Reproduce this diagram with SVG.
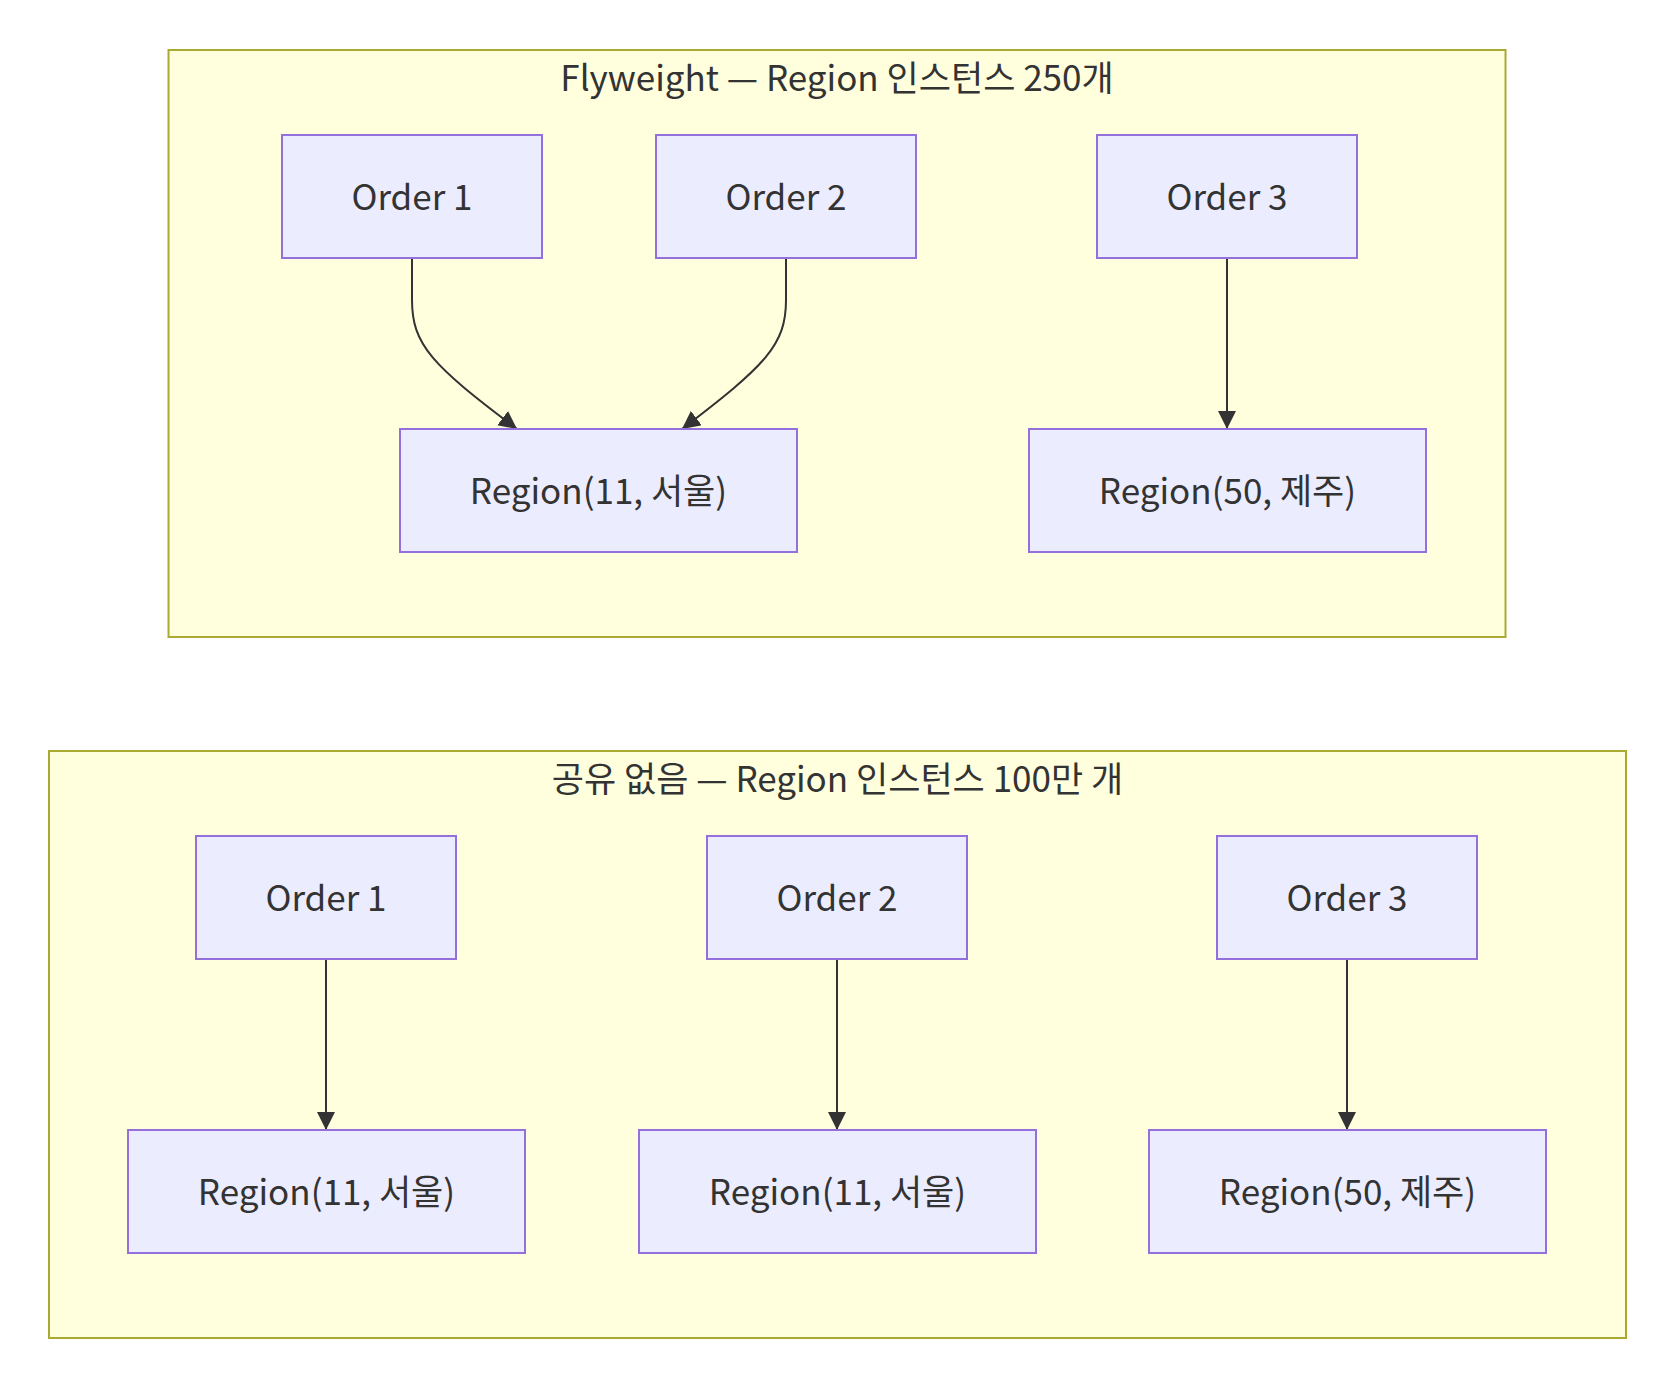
<svg xmlns="http://www.w3.org/2000/svg" width="1664" height="1386" viewBox="0 0 1664 1386">
<style>
.cluster{fill:#ffffde;stroke:#aaaa33;stroke-width:2}
.node rect{fill:#ececff;stroke:#9370db;stroke-width:2}
text{font-family:"Noto Sans CJK KR","Noto Sans",sans-serif;fill:#333;text-anchor:middle;dominant-baseline:central}
.lbl{font-size:35px}
.ttl{font-size:35px}
.edge{fill:none;stroke:#333;stroke-width:2}
</style>
<defs>
<marker id="arr" viewBox="0 0 10 10" refX="10" refY="5" markerUnits="userSpaceOnUse" markerWidth="18" markerHeight="18" orient="auto">
<path d="M0,0 L10,5 L0,10 z" fill="#333"/>
</marker>
</defs>
<rect width="1664" height="1386" fill="#ffffff"/>
<g id="cluster-flyweight">
<rect class="cluster" x="168.5" y="50" width="1337" height="587"/>
<text class="ttl" x="837" y="75">Flyweight — Region 인스턴스 250개</text>
</g>
<g id="cluster-noshare">
<rect class="cluster" x="49" y="751" width="1577" height="587"/>
<text class="ttl" x="837.5" y="776">공유 없음 — Region 인스턴스 100만 개</text>
</g>
<g id="edges">
<path class="edge" d="M412,258 L412,300 C412,345 432,365 517,429" marker-end="url(#arr)"/>
<path class="edge" d="M786,258 L786,300 C786,345 766,365 682,429" marker-end="url(#arr)"/>
<path class="edge" d="M1227,258 L1227,429" marker-end="url(#arr)"/>
<path class="edge" d="M326,959 L326,1130" marker-end="url(#arr)"/>
<path class="edge" d="M837,959 L837,1130" marker-end="url(#arr)"/>
<path class="edge" d="M1347,959 L1347,1130" marker-end="url(#arr)"/>
</g>
<g id="f-order1" class="node"><rect x="282" y="135" width="260" height="123"/><text class="lbl" x="412" y="194">Order 1</text></g>
<g id="f-order2" class="node"><rect x="656" y="135" width="260" height="123"/><text class="lbl" x="786" y="194">Order 2</text></g>
<g id="f-order3" class="node"><rect x="1097" y="135" width="260" height="123"/><text class="lbl" x="1227" y="194">Order 3</text></g>
<g id="f-region11" class="node"><rect x="400" y="429" width="397" height="123"/><text class="lbl" x="598.5" y="488">Region(11, 서울)</text></g>
<g id="f-region50" class="node"><rect x="1029" y="429" width="397" height="123"/><text class="lbl" x="1227.5" y="488">Region(50, 제주)</text></g>
<g id="n-order1" class="node"><rect x="196" y="836" width="260" height="123"/><text class="lbl" x="326" y="895">Order 1</text></g>
<g id="n-order2" class="node"><rect x="707" y="836" width="260" height="123"/><text class="lbl" x="837" y="895">Order 2</text></g>
<g id="n-order3" class="node"><rect x="1217" y="836" width="260" height="123"/><text class="lbl" x="1347" y="895">Order 3</text></g>
<g id="n-region11a" class="node"><rect x="128" y="1130" width="397" height="123"/><text class="lbl" x="326.5" y="1189">Region(11, 서울)</text></g>
<g id="n-region11b" class="node"><rect x="639" y="1130" width="397" height="123"/><text class="lbl" x="837.5" y="1189">Region(11, 서울)</text></g>
<g id="n-region50" class="node"><rect x="1149" y="1130" width="397" height="123"/><text class="lbl" x="1347.5" y="1189">Region(50, 제주)</text></g>
</svg>
